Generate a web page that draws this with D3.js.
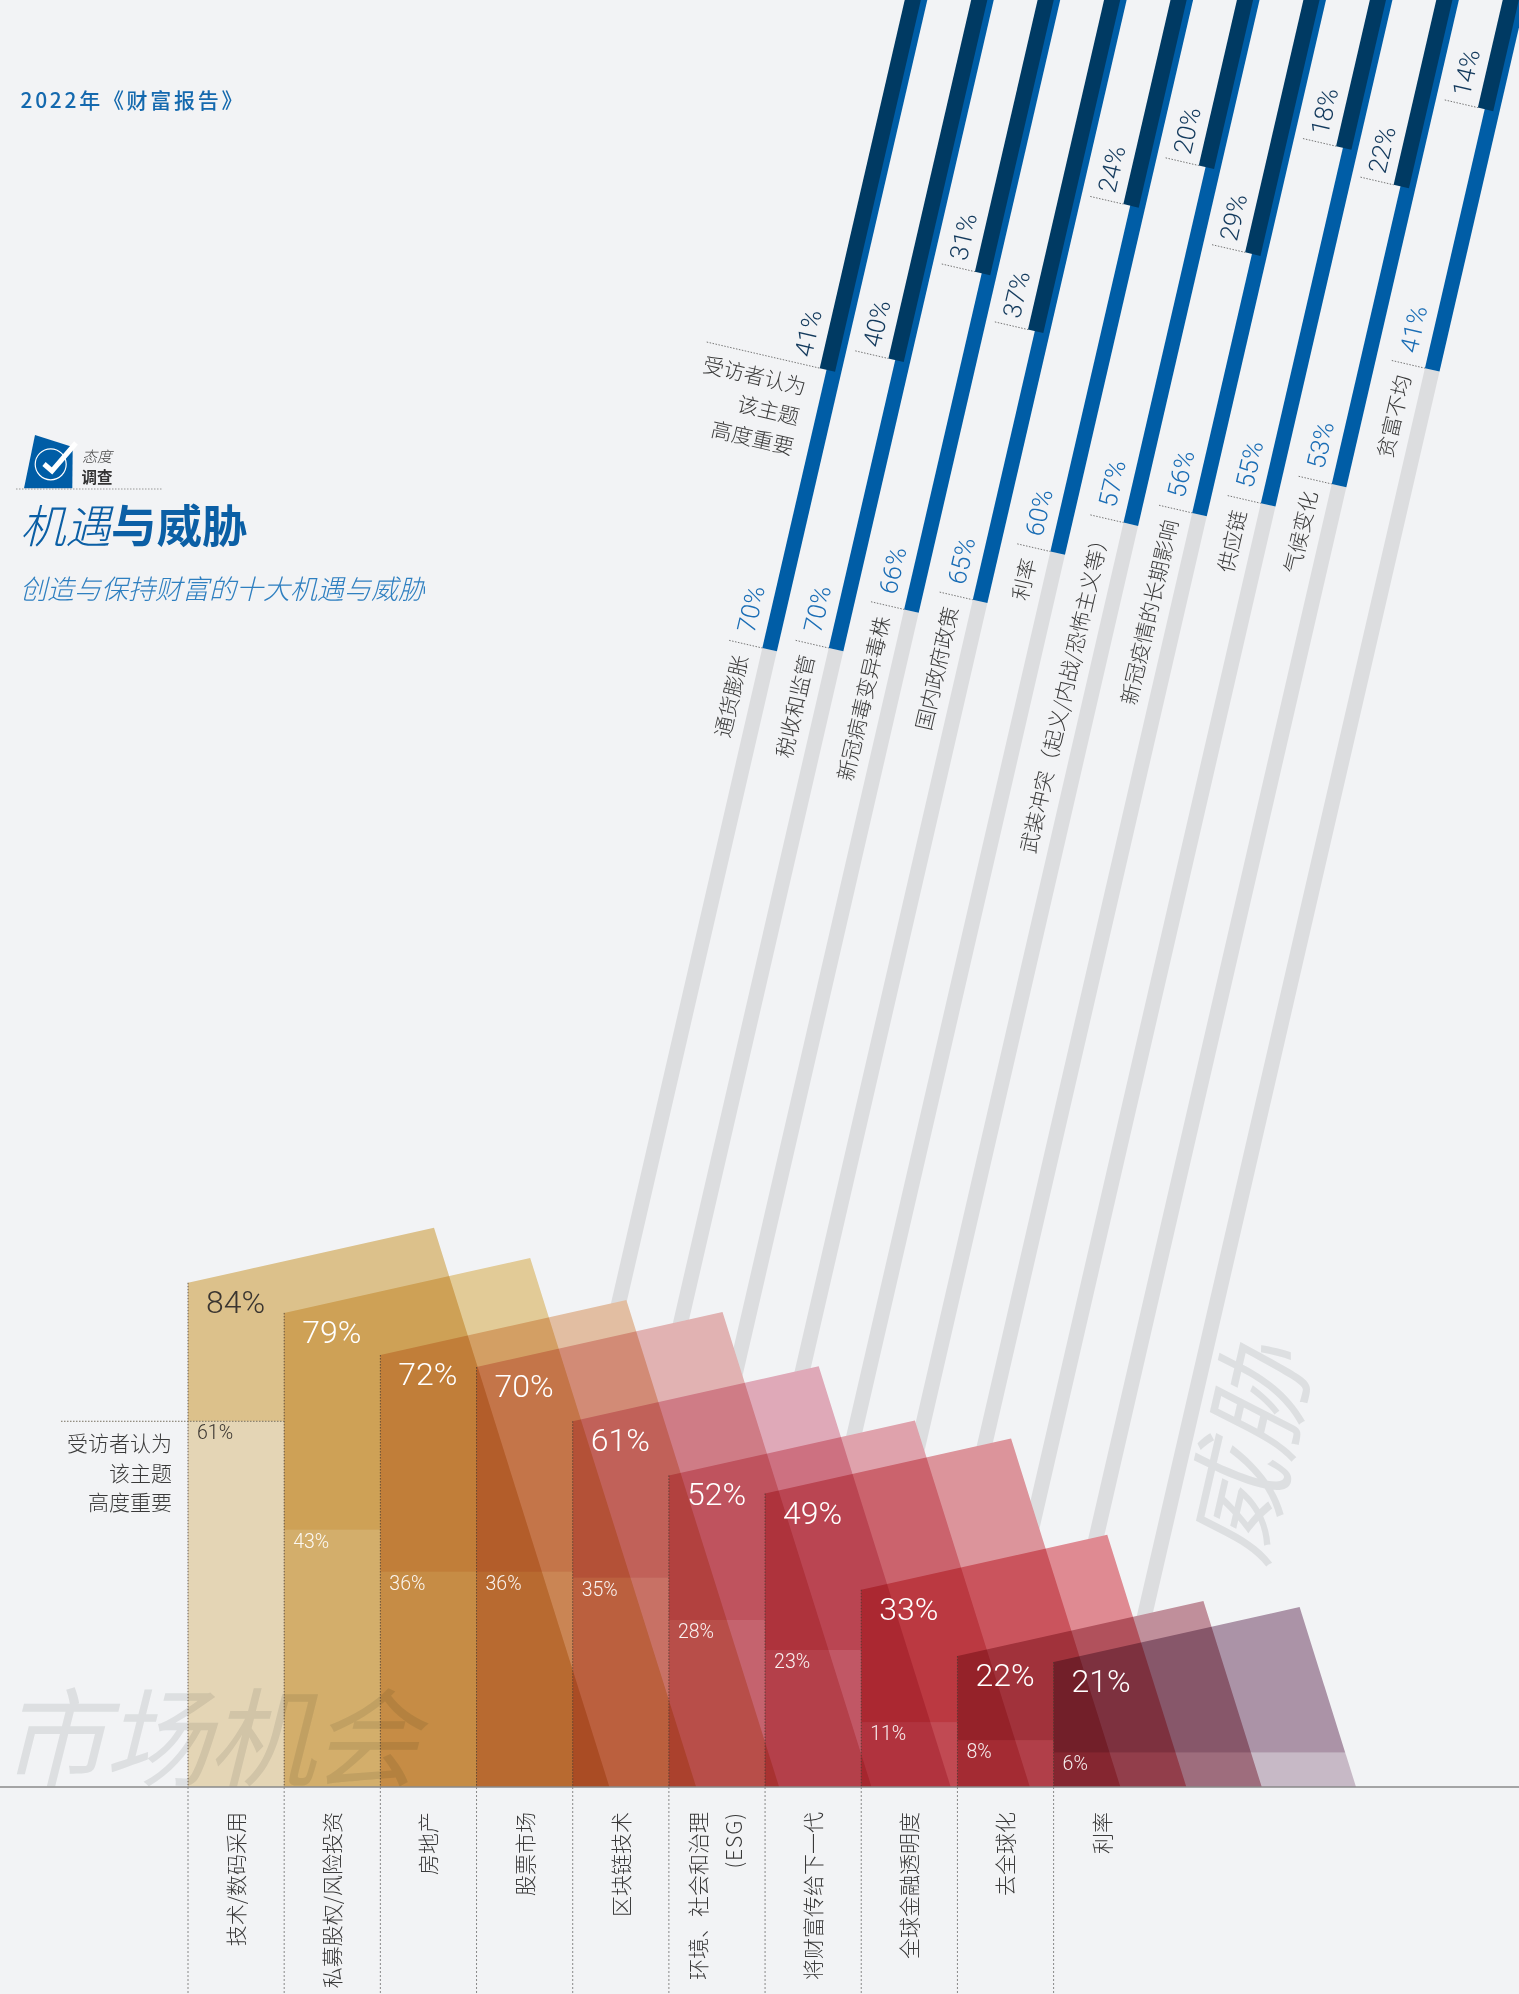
<!DOCTYPE html>
<html lang="zh">
<head>
<meta charset="utf-8">
<title>机遇与威胁</title>
<script src="https://cdnjs.cloudflare.com/ajax/libs/d3/7.8.5/d3.min.js"></script>
<style>
  html, body { margin: 0; padding: 0; background: #F2F3F5; }
  svg { display: block; }
  text { font-family: "Noto Sans CJK SC", "Noto Sans", sans-serif; }
  .num { font-family: Roboto, "Liberation Sans", sans-serif; font-weight: 300; }
  .cjk { font-weight: 300; fill: #3a3a3a; }
</style>
</head>
<body>
<svg id="chart" width="1519" height="1994"></svg>
<script>
// Threats: share of respondents rating each topic as highly important
const threatCategories = ["通货膨胀", "税收和监管", "新冠病毒变异毒株", "国内政府政策", "利率",
  "武装冲突（起义/内战/恐怖主义等）", "新冠疫情的长期影响", "供应链", "气候变化", "贫富不均"];
const threatAll = [70, 70, 66, 65, 60, 57, 56, 55, 53, 41];
const threatHigh = [41, 40, 31, 37, 24, 20, 29, 18, 22, 14];

// Market opportunities
const oppCategories = ["技术/数码采用", "私募股权/风险投资", "房地产", "股票市场", "区块链技术",
  "环境、社会和治理", "将财富传给下一代", "全球金融透明度", "去全球化", "利率"];
const oppAll = [84, 79, 72, 70, 61, 52, 49, 33, 22, 21];
const oppHigh = [61, 43, 36, 36, 35, 28, 23, 11, 8, 6];
const oppFills = ["#E8CB91", "#EFD59D", "#EFC8A9", "#EDBBB9", "#EBB1C0",
  "#EBAAB3", "#E89BA1", "#EB9198", "#CB96A1", "#B49AAE"];

const BG = "#F2F3F5";
const svg = d3.select("#chart");
svg.append("rect").attr("width", 1519).attr("height", 1994).attr("fill", BG);

const line = d3.line();
const poly = pts => line(pts) + "Z";

// ---------- scales ----------
const threatY = d3.scaleLinear().domain([0, 100]).range([-27.5, 937.5]);
const threatX = d3.scalePoint().domain(threatCategories).range([762.3, 1360.3]);
const oppY = d3.scaleLinear().domain([0, 100]).range([1788.5, 1186.5]);
const oppX = d3.scalePoint().domain(oppCategories).range([188, 1053.6]);
const colW = oppX.step();
const base = 1787;

// ---------- threat bars: slanted strips running off the top edge ----------
const SLANT = 0.2309, ANGLE = -77;
const barRef = threatY(70);
const leftAt = (cat, y) => threatX(cat) + (barRef - y) * SLANT;
const capX = 14.6, capY = 3.37;
const OFF_TOP = -30, OFF_BOTTOM = 1780;

function strip(cat, yEnd, shift, widen, yStart) {
  const ax = leftAt(cat, yEnd) + shift, ay = yEnd;
  const bx = ax + capX * widen, by = ay + capY * widen;
  const along = (x, y, to) => [x + (y - to) * SLANT, to];
  return poly([[ax, ay], [bx, by], along(bx, by, yStart), along(ax, ay, yStart)]);
}

const threats = threatCategories.map((c, i) => ({ c, all: threatAll[i], high: threatHigh[i] }));
const gT = svg.append("g");
gT.selectAll(".grey").data(threats).join("path").attr("class", "grey")
  .attr("fill", "#DCDDDF").attr("d", d => strip(d.c, threatY(d.all), 0, 1, OFF_BOTTOM));
gT.selectAll(".blue").data(threats).join("path").attr("class", "blue")
  .attr("fill", "#005DA6").attr("d", d => strip(d.c, threatY(d.all), 0, 1, OFF_TOP));
gT.selectAll(".dark").data(threats).join("path").attr("class", "dark")
  .attr("fill", "#003A63").attr("d", d => strip(d.c, threatY(d.high), -7.2, 1.05, OFF_TOP));

// dotted leaders at the end of each strip
const TICK = 34, ux = 0.974, uy = 0.225;
function leader(x, y, len) {
  svg.append("line").attr("x1", x - ux * len).attr("y1", y - uy * len).attr("x2", x).attr("y2", y)
    .attr("stroke", "#777").attr("stroke-width", 1).attr("stroke-dasharray", "1.5 1.5");
}
threats.forEach((d, i) => {
  leader(leftAt(d.c, threatY(d.all)), threatY(d.all), TICK);
  leader(leftAt(d.c, threatY(d.high)) - 7.2, threatY(d.high), i === 0 ? 116 : TICK);
});

function slantText(cat, y, dx, dy, str, anchor, color, cls, size) {
  svg.append("text").attr("class", cls)
    .attr("transform", `translate(${leftAt(cat, y) + dx},${y + dy}) rotate(${ANGLE})`)
    .attr("text-anchor", anchor).attr("font-size", size).attr("fill", color)
    .style("fill", color).text(str);
}
threats.forEach(d => {
  slantText(d.c, threatY(d.all), -8, -14, d.all + "%", "start", "#1A6DB5", "num", 25.5);
  slantText(d.c, threatY(d.high), -15.5, -10, d.high + "%", "start", "#12395C", "num", 25.5);
  slantText(d.c, threatY(d.all), -14, 9, d.c, "end", "#3a3a3a", "cjk", 21);
});

// note beside the first strip
[["受访者认为", 804, 395], ["该主题", 797.3, 425], ["高度重要", 791.7, 455]].forEach(([t, x, y]) => {
  svg.append("text").attr("class", "cjk").attr("font-size", 21).attr("text-anchor", "end")
    .attr("transform", `translate(${x},${y}) rotate(13)`).text(t);
});

// ---------- opportunity shapes ----------
const TOP_W = 246, TOP_RISE = 55, RIGHT_SLOPE = 0.3137;
const opps = oppCategories.map((c, i) => ({ c, i, all: oppAll[i], high: oppHigh[i], fill: oppFills[i] }));
function outline(d) {
  const x0 = oppX(d.c), yt = oppY(d.all);
  const tx = x0 + TOP_W, ty = yt - TOP_RISE;
  return { x0, yt, tx, ty, bx: tx + RIGHT_SLOPE * (base - ty) };
}

// opaque backing so the grey strips stop where the shapes begin
svg.append("g").selectAll("path").data(opps).join("path").attr("fill", BG)
  .attr("d", d => {
    const o = outline(d);
    return poly([[o.x0, base], [o.x0, o.yt], [o.tx, o.ty], [o.bx, base]]);
  });

// background lettering, seen through the multiplied shapes
svg.append("text").attr("x", 0).attr("y", 1778).attr("font-size", 107).attr("font-style", "italic")
  .attr("letter-spacing", -3).attr("fill", "#DDDFE1").text("市场机会");
svg.append("text").attr("transform", "translate(1262,1568) rotate(-77)").attr("font-size", 108)
  .attr("font-style", "italic").attr("fill", "#DDDFE1").text("威胁");

const last = opps.length - 1;
const gO = svg.append("g");
opps.forEach(d => {
  const o = outline(d), y2 = oppY(d.high);
  const rightAt = y => o.tx + RIGHT_SLOPE * (y - o.ty);
  if (d.i === last) {
    gO.append("path").attr("fill", d.fill).style("mix-blend-mode", "multiply")
      .attr("d", poly([[o.x0, y2], [o.x0, o.yt], [o.tx, o.ty], [rightAt(y2), y2]]));
    gO.append("path").attr("fill", d.fill).attr("fill-opacity", 0.6).style("mix-blend-mode", "multiply")
      .attr("d", poly([[o.x0, base], [o.x0, y2], [rightAt(y2), y2], [o.bx, base]]));
  } else {
    gO.append("path").attr("fill", d.fill).style("mix-blend-mode", "multiply")
      .attr("d", poly([[o.x0, y2], [o.x0, o.yt], [o.tx, o.ty], [o.bx, base], [o.x0 + colW, base], [o.x0 + colW, y2]]));
    gO.append("path").attr("fill", d.fill).attr("fill-opacity", 0.6).style("mix-blend-mode", "multiply")
      .attr("d", poly([[o.x0, base], [o.x0, y2], [o.x0 + colW, y2], [o.x0 + colW, base]]));
  }
});

// column rules
opps.forEach(d => {
  const o = outline(d);
  svg.append("line").attr("x1", o.x0).attr("x2", o.x0).attr("y1", o.yt).attr("y2", base)
    .attr("stroke", "#4a3a30").attr("stroke-width", 1).attr("stroke-dasharray", "1.5 1.5").attr("opacity", 0.8);
  svg.append("line").attr("x1", o.x0).attr("x2", o.x0).attr("y1", base).attr("y2", 1994)
    .attr("stroke", "#888").attr("stroke-width", 1).attr("stroke-dasharray", "2 2");
});
svg.append("line").attr("x1", 61).attr("x2", oppX(oppCategories[1])).attr("y1", oppY(oppHigh[0])).attr("y2", oppY(oppHigh[0]))
  .attr("stroke", "#77705f").attr("stroke-width", 1).attr("stroke-dasharray", "1.5 1.5");
svg.append("line").attr("x1", 0).attr("x2", 1519).attr("y1", base).attr("y2", base)
  .attr("stroke", "#8a8a8a").attr("stroke-width", 1.5);

// value labels
opps.forEach(d => {
  const o = outline(d);
  svg.append("text").attr("class", "num").attr("x", o.x0 + 18).attr("y", o.yt + 30)
    .attr("font-size", 32).style("fill", d.i === 0 ? "#3a3530" : "#fff").text(d.all + "%");
  svg.append("text").attr("class", "num").attr("x", o.x0 + 9).attr("y", oppY(d.high) + 18)
    .attr("font-size", 19.5).style("fill", d.i === 0 ? "#3a3530" : "rgba(255,255,255,0.92)").text(d.high + "%");
});

// category labels under the baseline
const labelOffset = 48;
opps.forEach(d => {
  const x = oppX(d.c) + labelOffset, wrap = d.i === 5;
  svg.append("text").attr("class", "cjk").attr("font-size", 21).attr("text-anchor", "end")
    .attr("transform", `translate(${wrap ? x - 11 : x + 8},1812) rotate(-90)`).text(d.c);
  if (wrap) {
    svg.append("text").attr("class", "cjk").attr("font-size", 21).attr("text-anchor", "end")
      .attr("letter-spacing", 1).attr("transform", `translate(${x + 25},1812) rotate(-90)`).text("(ESG)");
  }
});

// note left of the first column
[["受访者认为", 1451], ["该主题", 1481], ["高度重要", 1510]].forEach(([t, y]) => {
  svg.append("text").attr("class", "cjk").attr("x", 172).attr("y", y).attr("font-size", 21)
    .attr("text-anchor", "end").text(t);
});

// ---------- header block ----------
svg.append("text").attr("x", 20.5).attr("y", 108).attr("font-size", 21).attr("font-weight", 500)
  .attr("fill", "#1469AE").attr("letter-spacing", 2.7).text("2022年《财富报告》");

svg.append("path").attr("fill", "#005DA6")
  .attr("d", poly([[35, 435], [72.7, 447], [72.3, 488.3], [24, 488.3]]));
svg.append("circle").attr("cx", 50.7).attr("cy", 464.3).attr("r", 15.5)
  .attr("fill", "none").attr("stroke", "#fff").attr("stroke-width", 1.2);
svg.append("path").attr("fill", "none").attr("stroke", "#fff").attr("stroke-width", 5)
  .attr("d", line([[44, 464], [52, 471], [76, 443]]));
svg.append("text").attr("x", 82).attr("y", 462).attr("font-size", 15).attr("font-style", "italic")
  .attr("font-weight", 300).attr("fill", "#444").text("态度");
svg.append("text").attr("x", 81.5).attr("y", 482.5).attr("font-size", 15.5).attr("font-weight", 700)
  .attr("fill", "#333").text("调查");
svg.append("line").attr("x1", 16).attr("x2", 162).attr("y1", 489).attr("y2", 489)
  .attr("stroke", "#999").attr("stroke-width", 1).attr("stroke-dasharray", "1.5 1.5");

const title = svg.append("text").attr("x", 20).attr("y", 543).attr("font-size", 45.5).attr("fill", "#0B5FA5");
title.append("tspan").attr("font-style", "italic").attr("font-weight", 300).text("机遇");
title.append("tspan").attr("font-weight", 700).text("与威胁");
svg.append("text").attr("x", 20).attr("y", 599).attr("font-size", 27).attr("font-style", "italic")
  .attr("font-weight", 300).attr("fill", "#2E7FC0").text("创造与保持财富的十大机遇与威胁");
</script>
</body>
</html>
